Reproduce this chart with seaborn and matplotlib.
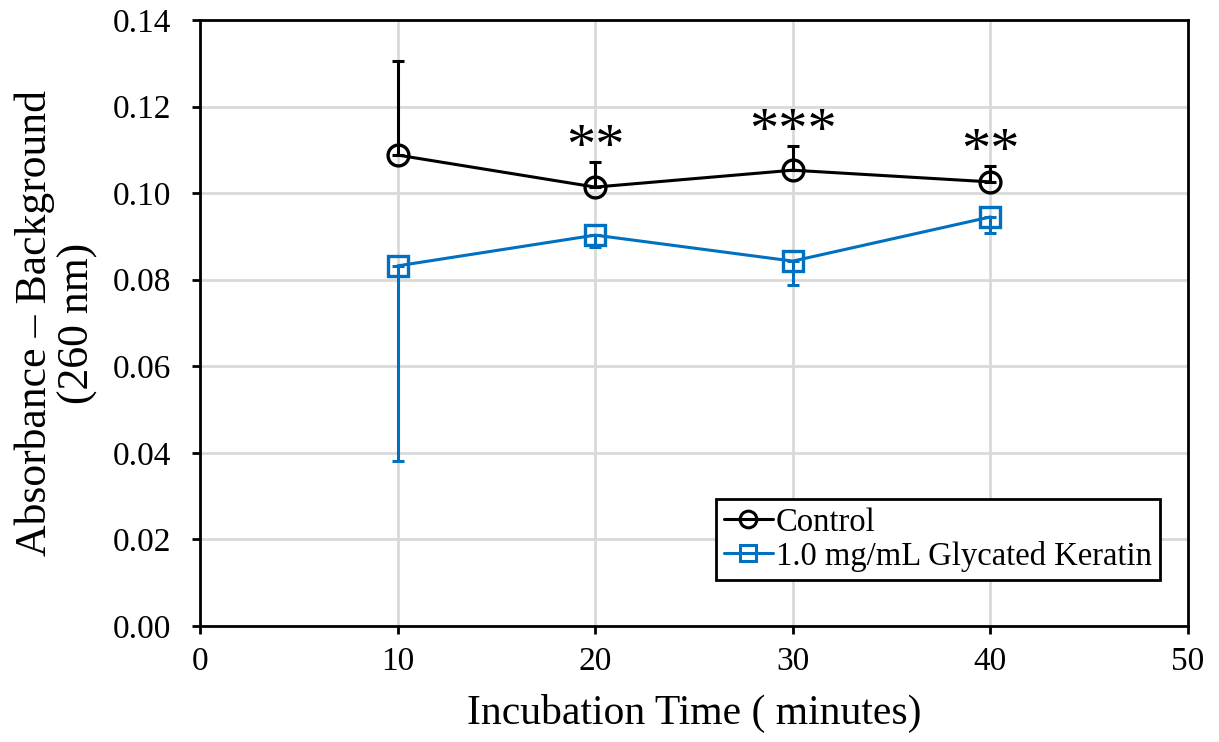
import numpy as np
import pandas as pd
import matplotlib
matplotlib.use("Agg")
import matplotlib.pyplot as plt
import seaborn as sns

# Incubation times (minutes)
times = [10, 20, 30, 40]

# Mean absorbance minus background at 260 nm
control_mean = [0.1088, 0.1014, 0.1053, 0.1026]
control_err = [0.0217, 0.0058, 0.0055, 0.0037]
keratin_mean = [0.0832, 0.0903, 0.0843, 0.0945]
keratin_err = [0.0451, 0.0027, 0.0055, 0.0037]

# Significance marks over the control series
sig_labels = ["", "**", "***", "**"]

series_names = ["Control", "1.0 mg/mL Glycated Keratin"]
colors = ["#000000", "#0070C0"]

df = pd.DataFrame({
    "time": times * 2,
    "value": control_mean + keratin_mean,
    "group": [series_names[0]] * 4 + [series_names[1]] * 4,
})

sns.set_theme(style="whitegrid")
plt.rcParams["font.family"] = ["Liberation Serif", "DejaVu Serif"]

fig = plt.figure(figsize=(12.19, 7.42), dpi=100)
ax = fig.add_axes([200 / 1219, 1 - 626 / 742, 988 / 1219, 606 / 742])

# One-sided error bars: control upward, keratin downward
ax.errorbar(times, control_mean, yerr=[np.zeros(4), control_err], fmt="none",
            ecolor=colors[0], elinewidth=2.2, capsize=4, capthick=2.2, zorder=2)
ax.errorbar(times, keratin_mean, yerr=[keratin_err, np.zeros(4)], fmt="none",
            ecolor=colors[1], elinewidth=2.2, capsize=4, capthick=2.2, zorder=2)

sns.lineplot(data=df, x="time", y="value", hue="group", style="group",
             markers={series_names[0]: "o", series_names[1]: "s"},
             dashes=False, palette=dict(zip(series_names, colors)),
             markersize=15, ax=ax, zorder=3)
for line in ax.lines:
    if line.get_marker() in ("o", "s"):
        line.set_linewidth(2.2)
        line.set_markerfacecolor("none")
        line.set_markeredgecolor(line.get_color())
        line.set_markeredgewidth(2.4)

for t, m, e, s in zip(times, control_mean, control_err, sig_labels):
    if s:
        ax.text(t, m + e - 0.003, s, ha="center", va="bottom",
                fontsize=42, color="black", zorder=4)

ax.set_xlim(0, 50)
ax.set_ylim(0, 0.14)
ax.set_xticks(np.arange(0, 51, 10))
ax.set_yticks(np.arange(0, 0.141, 0.02))
ax.set_yticklabels([f"{v:.2f}" for v in np.arange(0, 0.141, 0.02)])
ax.tick_params(axis="both", labelsize=24, colors="black", length=6, width=2,
               direction="out", bottom=True, left=True)
ax.tick_params(axis="x", pad=9)
ax.tick_params(axis="y", pad=15)
ax.grid(True, color="#d9d9d9", linewidth=2)
ax.set_facecolor("white")
for sp in ax.spines.values():
    sp.set_color("black")
    sp.set_linewidth(2)

ax.set_xlabel("Incubation Time ( minutes)", fontsize=30, color="black", labelpad=12)
ax.set_ylabel("Absorbance \u2013 Background\n(260 nm)", fontsize=31.5,
              color="black", labelpad=10, linespacing=1.1)

handles, labels = ax.get_legend_handles_labels()
for h, c in zip(handles, colors):
    h.set_markerfacecolor("none")
    h.set_markeredgecolor(c)
    h.set_markeredgewidth(2.2)
    h.set_linewidth(2.2)
    h.set_color(c)
leg = ax.legend(handles, labels, loc="lower right",
                bbox_to_anchor=(960 / 988, 46 / 606), fontsize=23.5,
                frameon=True, fancybox=False, handlelength=1.5,
                handletextpad=0.1, borderpad=0.25, labelspacing=0.1,
                markerscale=0.8, borderaxespad=0)
leg.get_frame().set_edgecolor("black")
leg.get_frame().set_linewidth(2)
leg.get_frame().set_alpha(1)
for t in leg.get_texts():
    t.set_color("black")

fig.savefig("out.png", dpi=100, facecolor="white")
